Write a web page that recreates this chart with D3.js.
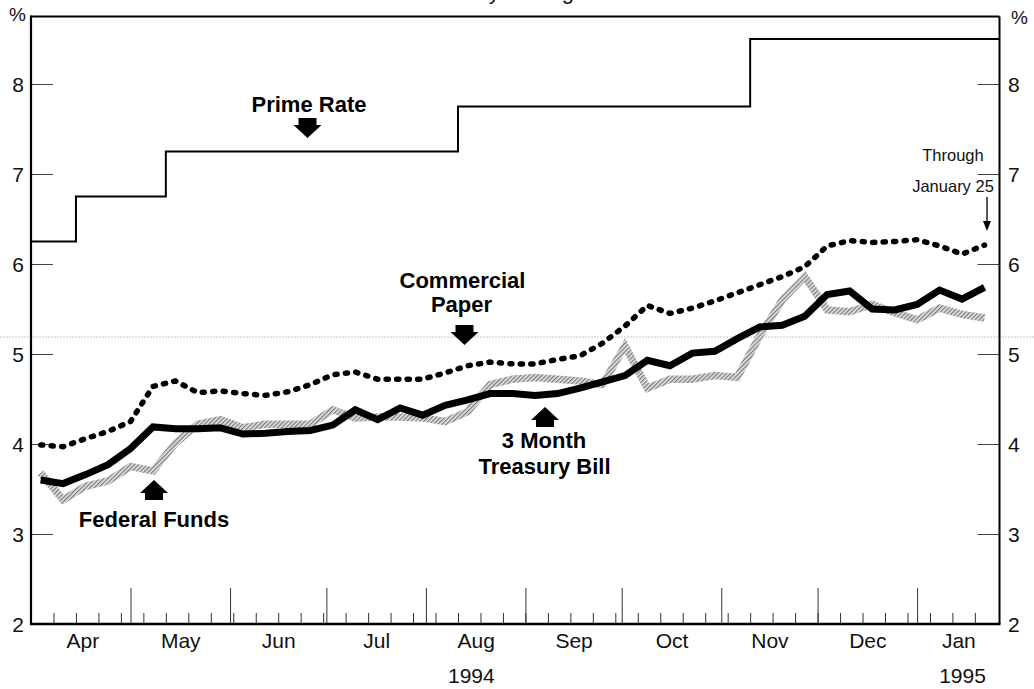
<!DOCTYPE html>
<html><head><meta charset="utf-8">
<script src="https://cdn.jsdelivr.net/npm/d3@7"></script>
<style>
html,body{margin:0;padding:0;background:#fff;}
svg{display:block;font-family:"Liberation Sans",Arial,Helvetica,sans-serif;}
</style></head><body>
<svg id="chart" width="1034" height="689"></svg>
<script>
// ---------------- data ----------------
const weekDates = ["1994-04-03","1994-04-10","1994-04-17","1994-04-24","1994-05-01","1994-05-08","1994-05-15","1994-05-22","1994-05-29",
  "1994-06-05","1994-06-12","1994-06-19","1994-06-26","1994-07-03","1994-07-10","1994-07-17","1994-07-24","1994-07-31",
  "1994-08-07","1994-08-14","1994-08-21","1994-08-28","1994-09-04","1994-09-11","1994-09-18","1994-09-25",
  "1994-10-02","1994-10-09","1994-10-16","1994-10-23","1994-10-30","1994-11-06","1994-11-13","1994-11-20","1994-11-27",
  "1994-12-04","1994-12-11","1994-12-18","1994-12-25","1995-01-01","1995-01-08","1995-01-15","1995-01-22"];
const treasuryBill = [3.60,3.56,3.66,3.77,3.95,4.19,4.17,4.17,4.18,4.11,4.12,4.14,4.15,4.21,4.38,4.27,4.40,4.32,4.43,4.49,4.56,4.56,
  4.54,4.56,4.62,4.69,4.76,4.93,4.87,5.01,5.03,5.17,5.30,5.32,5.42,5.66,5.70,5.50,5.49,5.55,5.71,5.61,5.74];
const commercialPaper = [3.99,3.97,4.06,4.14,4.25,4.64,4.70,4.57,4.59,4.56,4.54,4.58,4.66,4.77,4.80,4.72,4.72,4.72,4.79,4.87,4.91,4.89,
  4.89,4.94,4.98,5.12,5.31,5.54,5.45,5.51,5.59,5.68,5.77,5.86,5.97,6.20,6.26,6.24,6.25,6.27,6.20,6.11,6.21];
const federalFunds = [3.68,3.38,3.53,3.59,3.75,3.70,4.01,4.22,4.27,4.18,4.22,4.22,4.22,4.38,4.29,4.30,4.30,4.29,4.25,4.36,4.66,4.72,
  4.74,4.72,4.70,4.66,5.09,4.62,4.72,4.72,4.76,4.74,5.20,5.60,5.86,5.49,5.47,5.55,5.46,5.38,5.51,5.44,5.40];
const primeDates = ["1994-03-31","1994-04-14","1994-05-12","1994-08-11","1994-11-10","1995-01-27"];
const primeRate = [6.25,6.75,7.25,7.75,8.50,8.50];
const yTickValues = [2,3,4,5,6,7,8];
const monthStarts = ["1994-04-01","1994-05-01","1994-06-01","1994-07-01","1994-08-01","1994-09-01","1994-10-01","1994-11-01","1994-12-01","1995-01-01","1995-02-01"];
const monthLabels = ["Apr","May","Jun","Jul","Aug","Sep","Oct","Nov","Dec","Jan"];
const yearLabels = ["1994","1995"];
const yearDates = ["1994-08-15","1995-01-15"];

// ---------------- setup ----------------
const parse = d3.timeParse("%Y-%m-%d");
const svg = d3.select("#chart");
const FONT = '"Liberation Sans",Arial,Helvetica,sans-serif';
const startDate = new Date(1994,2,31,0), endDate = new Date(1995,0,26,16);
const pLeft = 31, pRight = 999.5, pTop = 16.5, pBottom = 624;
const x = d3.scaleTime().domain([startDate, endDate]).range([pLeft, pRight]);
const y = d3.scaleLinear().domain([2, 8.75]).range([pBottom, pTop]);

// hatch pattern for federal funds
const defs = svg.append("defs");
const pat = defs.append("pattern").attr("id","hatch").attr("patternUnits","userSpaceOnUse")
  .attr("width",3).attr("height",3).attr("patternTransform","rotate(45)");
pat.append("rect").attr("width",3).attr("height",3).attr("fill","#e4e4e4");
pat.append("rect").attr("width",1.3).attr("height",3).attr("fill","#7d7d7d");

// clipped title (only descenders visible at top edge)
svg.append("text").attr("x",428).attr("y",-1.5).attr("font-size",22).attr("fill","#111").text("Weekly Average");

// scan fold line
svg.append("line").attr("x1",0).attr("x2",1034).attr("y1",337).attr("y2",337)
  .attr("stroke","#9a9a9a").attr("stroke-width",0.8).attr("stroke-dasharray","2,1").attr("opacity",0.7);

// ---------------- axes ----------------
const weekTicks = d3.timeThursday.range(new Date(1994,3,1), endDate).filter(d => x(d) < pRight - 8);
const monthTicks = d3.timeMonth.range(new Date(1994,3,2), endDate);

function styleAxis(g){
  g.select(".domain").remove();
  g.selectAll(".tick line").attr("stroke","#333").attr("stroke-width",1);
}
svg.append("g").attr("transform",`translate(0,${pBottom})`)
  .call(d3.axisBottom(x).tickValues(weekTicks).tickSize(-11).tickFormat(""))
  .call(styleAxis);
svg.append("g").attr("transform",`translate(0,${pBottom})`)
  .call(d3.axisBottom(x).tickValues(monthTicks).tickSize(-36).tickFormat(""))
  .call(styleAxis);

// month labels centered on visible span of each month
const monthMid = monthLabels.map((m,i) => {
  const a = Math.max(+parse(monthStarts[i]), +startDate);
  const b = Math.min(+parse(monthStarts[i+1]), +endDate);
  return new Date((a+b)/2);
});
const monthAxis = svg.append("g").attr("transform",`translate(0,${pBottom})`)
  .call(d3.axisBottom(x).tickValues(monthMid).tickSize(0).tickFormat((d,i)=>monthLabels[i]));
monthAxis.select(".domain").remove();
monthAxis.selectAll("text").attr("y",24).attr("dy",null).attr("font-size",21)
  .attr("font-family",FONT).attr("fill","#111");

const yearAxis = svg.append("g").attr("transform",`translate(0,${pBottom})`)
  .call(d3.axisBottom(x).tickValues(yearDates.map(parse)).tickSize(0).tickFormat((d,i)=>yearLabels[i]));
yearAxis.select(".domain").remove();
yearAxis.selectAll("text").attr("y",58.5).attr("dy",null).attr("font-size",21)
  .attr("font-family",FONT).attr("fill","#111");

// y axes
const yl = svg.append("g").attr("transform",`translate(${pLeft},0)`)
  .call(d3.axisLeft(y).tickValues(yTickValues).tickSize(-22).tickPadding(7).tickFormat(d3.format("d")));
const yr = svg.append("g").attr("transform",`translate(${pRight},0)`)
  .call(d3.axisRight(y).tickValues(yTickValues).tickSize(-22).tickPadding(8.5).tickFormat(d3.format("d")));
[yl,yr].forEach(g=>{
  styleAxis(g);
  g.selectAll(".tick line").attr("stroke","#444");
  g.selectAll("text").attr("font-size",21).attr("font-family",FONT).attr("fill","#111").attr("dy","0.36em");
});
svg.append("text").attr("x",9).attr("y",21).attr("font-size",19).attr("fill","#111").text("%");
svg.append("text").attr("x",1011).attr("y",24).attr("font-size",19).attr("fill","#111").text("%");

// ---------------- series ----------------
const dates = weekDates.map(parse);
const ser = arr => arr.map((v,i)=>({date:dates[i], v}));
const line = d3.line().x(d=>x(d.date)).y(d=>y(d.v));

svg.append("path").datum(ser(federalFunds)).attr("d",line)
  .attr("fill","none").attr("stroke","url(#hatch)").attr("stroke-width",7.5).attr("stroke-linejoin","miter");
svg.append("path").datum(ser(treasuryBill)).attr("d",line)
  .attr("fill","none").attr("stroke","#000").attr("stroke-width",7).attr("stroke-linejoin","miter").attr("stroke-miterlimit",3);
svg.append("path").datum(ser(commercialPaper)).attr("d",line)
  .attr("fill","none").attr("stroke","#000").attr("stroke-width",5.5).attr("stroke-linecap","round")
  .attr("stroke-dasharray","2.2,8.3");

// prime rate step line
const primeData = primeDates.map((d,i)=>({date: i===primeDates.length-1 ? endDate : (i===0 ? startDate : parse(d)), v: primeRate[i]}));
svg.append("path").datum(primeData).attr("d", d3.line().curve(d3.curveStepAfter).x(d=>x(d.date)).y(d=>y(d.v)))
  .attr("fill","none").attr("stroke","#000").attr("stroke-width",2);

// ---------------- frame ----------------
svg.append("line").attr("x1",pLeft).attr("x2",pRight).attr("y1",pTop).attr("y2",pTop).attr("stroke","#000").attr("stroke-width",2);
svg.append("line").attr("x1",pRight).attr("x2",pRight).attr("y1",pTop).attr("y2",pBottom).attr("stroke","#000").attr("stroke-width",2);
svg.append("line").attr("x1",pLeft).attr("x2",pLeft).attr("y1",pTop-1).attr("y2",pBottom+1).attr("stroke","#000").attr("stroke-width",2.2);
svg.append("line").attr("x1",pLeft-1).attr("x2",pRight+1).attr("y1",pBottom).attr("y2",pBottom).attr("stroke","#000").attr("stroke-width",2.5);

// ---------------- annotations ----------------
function downArrow(cx, t){
  return `M${cx-9},${t}L${cx+9},${t}L${cx+9},${t+7}L${cx+14},${t+7}L${cx},${t+20}L${cx-14},${t+7}L${cx-9},${t+7}Z`;
}
function upArrow(cx, t){
  return `M${cx},${t}L${cx+14},${t+13}L${cx+9},${t+13}L${cx+9},${t+20}L${cx-9},${t+20}L${cx-9},${t+13}L${cx-14},${t+13}Z`;
}
const bold = (tx, cx, by) => svg.append("text").attr("x",cx).attr("y",by).attr("text-anchor","middle")
  .attr("font-size",22).attr("font-weight","bold").attr("fill","#000").text(tx);

bold("Prime Rate", 309, 112);
svg.append("path").attr("d", downArrow(307.5,118)).attr("fill","#000");
bold("Commercial", 462.5, 288);
bold("Paper", 461.5, 312);
svg.append("path").attr("d", downArrow(464.5,325)).attr("fill","#000");
svg.append("path").attr("d", upArrow(545,407)).attr("fill","#000");
bold("3 Month", 544, 448);
bold("Treasury Bill", 544.5, 474);
svg.append("path").attr("d", upArrow(154,480)).attr("fill","#000");
bold("Federal Funds", 154, 527);

svg.append("text").attr("x",953).attr("y",161).attr("text-anchor","middle").attr("font-size",16.5).attr("fill","#111").text("Through");
svg.append("text").attr("x",953).attr("y",191.5).attr("text-anchor","middle").attr("font-size",16.5).attr("fill","#111").text("January 25");
svg.append("line").attr("x1",987).attr("x2",987).attr("y1",197).attr("y2",224).attr("stroke","#000").attr("stroke-width",1.3);
svg.append("path").attr("d","M983,221L991,221L987,231Z").attr("fill","#000");
</script>
</body></html>
